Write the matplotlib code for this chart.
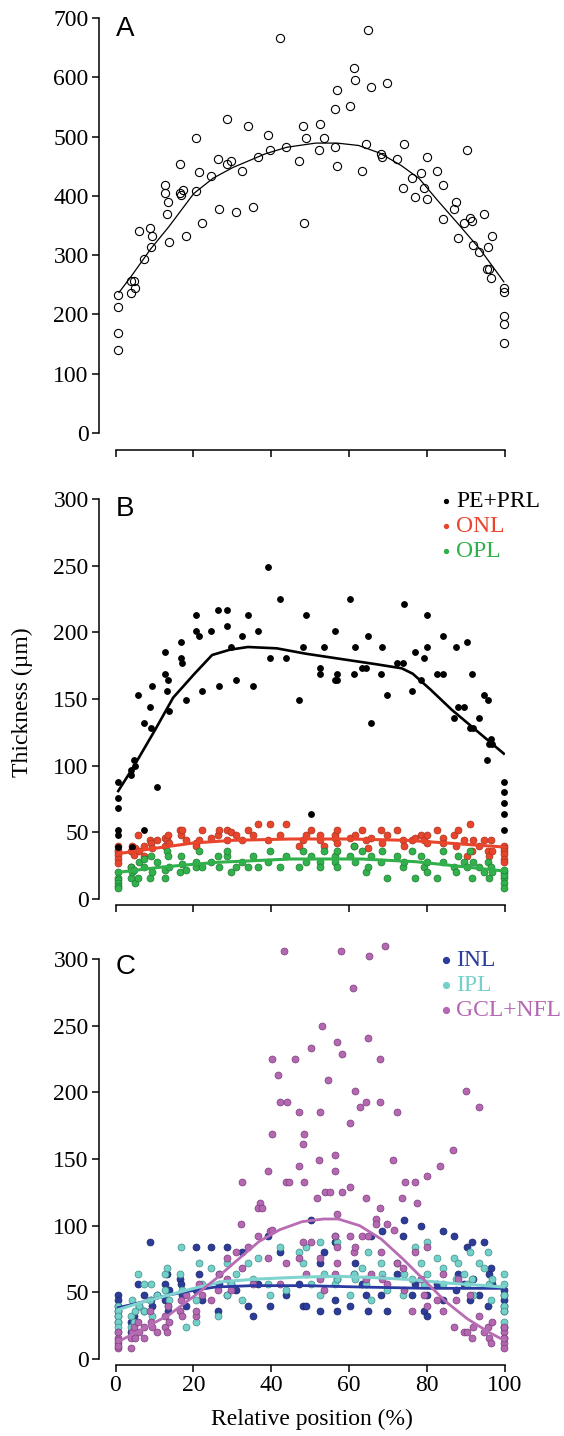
import numpy as np
import matplotlib
matplotlib.use('Agg')
import matplotlib.pyplot as plt

plt.rcParams['font.family'] = ['Liberation Serif', 'DejaVu Serif']

# ---- panel A : total retinal thickness ----
a_x = [0.7, 0.7, 0.7, 0.7, 3.9, 4.8, 4.0, 5.1, 6.1, 7.4, 8.8, 9.4, 9.1, 12.7, 12.7, 13.6, 13.2, 13.7,
       16.6, 16.7, 17.4, 16.5, 18.1, 20.6, 21.4, 20.6, 22.3, 24.5, 26.4, 28.6, 28.5, 29.7, 26.7, 31.0,
       32.6, 33.9, 35.3, 36.5, 39.1, 39.7, 42.2, 43.9, 47.0, 48.2, 48.8, 48.4, 52.4, 52.3, 53.6, 56.3,
       56.8, 56.3, 56.9, 60.2, 61.2, 61.6, 63.3, 64.3, 64.7, 65.5, 69.8, 68.1, 68.5, 72.2, 74.1, 73.8,
       76.2, 76.8, 78.5, 79.1, 80.1, 80.1, 82.6, 84.2, 84.0, 86.9, 87.5, 87.9, 89.4, 90.3, 91.1, 91.5,
       91.9, 93.2, 94.6, 95.6, 96.7, 95.5, 96.0, 96.4, 99.7, 99.7, 99.7, 99.7, 99.7]
a_y = [233, 213, 168, 140, 256, 256, 236, 245, 341, 293, 345, 333, 313, 418, 405, 389, 369, 322,
       454, 402, 410, 405, 333, 498, 441, 409, 354, 434, 462, 530, 454, 458, 377, 373,
       442, 518, 381, 466, 502, 478, 667, 483, 458, 518, 498, 354, 522, 478, 498, 546,
       578, 483, 451, 551, 615, 595, 442, 487, 679, 583, 591, 470, 466, 462, 487, 414,
       430, 398, 438, 414, 466, 394, 442, 418, 361, 377, 390, 329, 354, 478, 362, 358,
       317, 305, 369, 313, 333, 277, 277, 261, 245, 237, 197, 184, 152]
a_fit_x = [0.9, 4.0, 9.1, 13.7, 20.1, 25.1, 30.2, 38.5, 44.0, 51.4, 56.9, 62.4, 67.9, 73.4, 78.0, 82.6, 88.2, 93.7, 99.7]
a_fit_y = [237, 264, 311, 348, 404, 430, 448, 471, 482, 489, 489, 485, 472, 451, 429, 393, 351, 309, 255]

# ---- panel B : outer layers ----
pe_x = [0.7, 0.7, 0.7, 0.7, 0.7, 0.7, 3.9, 4.0, 4.8, 5.1, 5.9, 4.3, 7.4, 7.4, 8.8, 9.1, 9.4, 10.7,
        12.7, 12.7, 13.2, 13.6, 13.7, 16.7, 16.7, 17.1, 18.1, 20.6, 20.6, 21.4, 22.3, 24.5, 26.4, 26.7,
        28.5, 28.5, 29.7, 31.0, 32.6, 33.9, 35.3, 36.5, 39.1, 39.7, 42.2, 43.9, 47.0, 48.2, 48.8, 50.3,
        52.4, 52.4, 53.6, 56.3, 56.3, 56.8, 56.8, 60.2, 61.2, 61.6, 63.3, 64.3, 64.7, 65.5, 68.1, 68.5,
        69.8, 72.2, 73.8, 74.1, 76.2, 76.8, 78.5, 79.1, 80.1, 80.1, 82.6, 84.0, 84.2, 86.9, 87.5, 87.9,
        89.4, 90.3, 91.1, 91.5, 91.9, 93.2, 94.6, 95.5, 95.6, 95.8, 96.4, 96.7, 99.7, 99.7, 99.7, 99.7, 99.7]
pe_y = [88, 76, 68, 52, 48, 39, 93, 97, 104, 100, 153, 39, 132, 52, 144, 128, 160, 84,
        185, 169, 156, 164, 141, 193, 181, 177, 149, 213, 201, 197, 156, 201, 217, 160,
        217, 205, 189, 164, 197, 213, 160, 201, 249, 181, 225, 181, 149, 189, 213, 64,
        169, 173, 189, 201, 164, 169, 164, 225, 169, 189, 173, 173, 197, 132, 169, 189,
        153, 177, 177, 221, 156, 185, 164, 181, 213, 189, 169, 169, 197, 136, 189, 144,
        144, 193, 128, 169, 128, 136, 153, 104, 149, 116, 120, 116, 88, 80, 72, 64, 52]
pe_fit_x = [0.7, 4.6, 10.2, 14.8, 20.3, 24.8, 29.4, 34.0, 41.4, 48.8, 57.9, 67.1, 73.5, 76.3, 80.9, 86.3, 92.8, 99.7]
pe_fit_y = [81, 99, 127, 151, 169, 183, 187, 189, 188, 184, 180, 176, 173, 169, 157, 142, 126, 109]

# sample positions shared by the dense layers
pos = [0.7, 0.7, 0.7, 0.7, 0.7, 0.7, 3.9, 4.0, 4.3, 4.8,
       5.1, 5.9, 6.1, 7.4, 7.4, 8.8, 9.1, 9.4, 10.7, 12.7,
       12.7, 13.2, 13.6, 13.7, 16.5, 16.7, 17.1, 18.1, 20.6, 20.6,
       21.4, 22.3, 24.5, 26.4, 26.7, 28.5, 28.6, 29.7, 31.0, 32.6,
       33.9, 35.3, 36.5, 39.1, 39.7, 42.2, 43.9, 47.0, 48.2, 48.8,
       50.3, 52.4, 52.4, 53.6, 56.3, 56.3, 56.8, 56.9, 60.2, 61.2,
       61.6, 63.3, 64.3, 64.7, 65.5, 68.1, 68.5, 69.8, 72.2, 73.8,
       74.1, 76.2, 76.8, 78.5, 79.1, 80.1, 80.1, 82.6, 84.0, 84.2,
       86.9, 87.5, 87.9, 89.4, 90.3, 91.1, 91.5, 91.9, 93.2, 94.6,
       95.6, 96.0, 96.4, 96.7, 99.7, 99.7, 99.7, 99.7, 99.7, 99.7]
onl = [40, 37, 35, 33, 30, 27, 36, 24, 40, 33,
       38, 48, 36, 32, 40, 44, 42, 38, 44, 46,
       40, 44, 48, 42, 52, 48, 52, 44, 42, 40,
       44, 52, 46, 48, 52, 52, 44, 50, 48, 44,
       52, 48, 56, 44, 56, 48, 56, 40, 44, 48,
       52, 44, 48, 40, 46, 48, 52, 42, 46, 40,
       48, 52, 44, 38, 46, 52, 42, 48, 52, 44,
       40, 44, 46, 48, 44, 48, 42, 52, 46, 42,
       48, 40, 52, 44, 32, 56, 36, 44, 40, 44,
       36, 32, 44, 36, 40, 38, 36, 34, 30, 28]
opl = [20, 16, 14, 12, 10, 8, 24, 16, 20, 22,
       12, 16, 28, 24, 30, 16, 32, 20, 28, 16,
       22, 36, 32, 24, 20, 32, 26, 22, 24, 28,
       36, 24, 28, 32, 24, 32, 36, 20, 24, 28,
       24, 32, 24, 28, 36, 24, 32, 24, 36, 28,
       32, 28, 24, 36, 32, 28, 36, 24, 32, 40,
       28, 36, 20, 24, 32, 28, 36, 16, 32, 24,
       28, 36, 16, 32, 24, 28, 20, 16, 36, 28,
       24, 20, 32, 28, 24, 36, 16, 28, 24, 20,
       28, 16, 24, 20, 20, 16, 12, 8, 18, 22]
onl_fit_x = [0.7, 10, 20, 30, 45, 60, 75, 85, 99.7]
onl_fit_y = [34, 38, 42, 44, 45, 45, 44, 42, 39]
opl_fit_x = [0.7, 12, 26, 45, 63, 77, 90, 99.7]
opl_fit_y = [20, 24, 27.5, 30, 30, 28, 24, 21]

# ---- panel C : inner layers ----
inl = [48, 44, 36, 32, 28, 40, 28, 20, 24, 32,
       28, 56, 40, 48, 36, 88, 44, 40, 48, 56,
       44, 64, 36, 52, 60, 56, 48, 40, 84, 52,
       64, 44, 84, 36, 56, 84, 48, 56, 52, 80,
       40, 32, 56, 92, 40, 80, 48, 56, 40, 40,
       104, 72, 36, 80, 88, 44, 36, 60, 40, 64,
       72, 56, 48, 36, 92, 48, 96, 36, 64, 92,
       104, 48, 56, 100, 36, 48, 32, 56, 96, 44,
       92, 52, 64, 56, 84, 44, 88, 60, 48, 88,
       40, 64, 68, 56, 52, 48, 44, 40, 36, 24]
ipl = [40, 36, 32, 28, 24, 20, 24, 32, 44, 28,
       36, 64, 40, 56, 36, 44, 56, 32, 48, 64,
       52, 68, 40, 44, 64, 84, 52, 24, 44, 28,
       72, 56, 68, 32, 64, 48, 72, 56, 64, 44,
       72, 60, 76, 56, 48, 84, 52, 80, 72, 84,
       56, 88, 48, 64, 92, 56, 60, 88, 48, 64,
       60, 68, 56, 80, 44, 72, 64, 52, 72, 48,
       64, 60, 84, 72, 56, 64, 88, 76, 56, 68,
       76, 60, 72, 64, 56, 80, 60, 48, 72, 68,
       80, 56, 44, 60, 64, 56, 48, 40, 36, 28]
gcl = [8, 12, 16, 20, 14, 10, 8, 16, 20, 24,
       16, 28, 20, 16, 24, 36, 28, 24, 20, 32,
       24, 20, 40, 28, 36, 44, 32, 48, 32, 36,
       56, 48, 44, 52, 64, 76, 60, 52, 80, 68,
       84, 56, 92, 76, 96, 56, 72, 76, 88, 64,
       88, 60, 76, 52, 92, 64, 84, 72, 92, 80,
       84, 92, 60, 92, 64, 80, 60, 56, 72, 68,
       52, 36, 80, 60, 48, 84, 40, 44, 64, 36,
       24, 44, 60, 20, 20, 48, 16, 24, 32, 20,
       24, 16, 12, 28, 20, 12, 16, 8, 24, 16]
gcl_hi_x = [43.3, 57.8, 65.0, 69.3, 61.1, 53.0, 64.7, 56.8, 50.3, 58.2, 40.1, 46.0, 68.0, 41.6, 54.5,
            61.6, 90.1, 42.2, 44.0, 64.3, 67.9, 62.7, 93.4, 47.0, 52.5, 72.2, 60.3, 48.4, 40.1, 48.2,
            86.7, 56.3, 52.3, 71.2, 83.4, 47.0, 39.2, 56.3, 80.1, 32.6, 43.9, 44.5, 48.4, 74.3, 76.8,
            60.3, 53.7, 55.1, 58.2, 51.7, 64.3, 73.5, 37.1, 77.5, 36.7, 37.5, 68.0, 56.8, 66.9, 32.1,
            69.6, 66.9, 40.1, 71.4]
gcl_hi_y = [306, 306, 302, 310, 278, 250, 241, 238, 233, 229, 225, 225, 225, 213, 209,
            201, 201, 193, 193, 193, 193, 189, 189, 185, 185, 185, 177, 169, 169, 161,
            157, 153, 149, 149, 145, 145, 141, 141, 137, 133, 133, 133, 133, 133, 133,
            129, 125, 125, 125, 121, 121, 121, 117, 117, 113, 113, 113, 109, 105, 101,
            101, 101, 97, 97]
inl_fit_x = [0.7, 7.3, 13.7, 20.1, 25.7, 35, 49, 62.7, 80, 99.7]
inl_fit_y = [38.5, 43, 48, 51.5, 54, 55, 55, 54, 53, 53]
ipl_fit_x = [0.7, 7.3, 13.7, 20.1, 27.5, 36.5, 48.4, 57.6, 66.8, 76, 85.2, 99.7]
ipl_fit_y = [37, 43, 48, 53, 58, 60, 61.5, 62, 61, 59.5, 57, 54]
gcl_fit_x = [0.7, 7.3, 13.7, 20.1, 25.7, 31.2, 36.8, 42.2, 47.9, 53.4, 57.2, 62.7, 68.2, 73.8, 79.3, 84.8, 90.4, 95.9, 99.8]
gcl_fit_y = [13, 23, 33, 47, 60, 74, 88, 97, 103, 105, 105, 100, 90, 75, 59, 43, 30, 20, 14]

xt = [0, 20, 40, 60, 80, 100]
W, H = 564., 1436.
fntsz = 17
sans = ['Liberation Sans', 'DejaVu Sans']
L, AW = 115.5, 389.5   # axes left edge and width in pixels

fig = plt.figure(figsize=(W / 100, H / 100), dpi=100)


def style(ax, ymax, ystep, out_b, labels=False):
    ax.set_xlim(0, 100)
    ax.set_ylim(0, ymax)
    for s in ['top', 'right']:
        ax.spines[s].set_visible(False)
    ax.spines['left'].set_position(('outward', 12))
    ax.spines['bottom'].set_position(('outward', out_b))
    ax.spines['left'].set_bounds(0, ymax)
    ax.spines['bottom'].set_bounds(0, 100)
    for s in ['left', 'bottom']:
        ax.spines[s].set_linewidth(1.1)
    ax.set_xticks(xt)
    ax.set_yticks(np.arange(0, ymax + 1, ystep))
    ax.tick_params(width=1.1, length=4.8, labelsize=fntsz, pad=2.5)
    ax.tick_params(axis='x', pad=2.5)
    if not labels:
        ax.set_xticklabels([])


def legend(ax, names, cols, y0, ms):
    for i, (n, c) in enumerate(zip(names, cols)):
        y = y0 - i * 25 / 400.
        ax.plot([(446 - L) / AW], [y + 0.016], 'o', color=c, ms=ms, mec=c, transform=ax.transAxes, clip_on=False)
        ax.text((456 - L) / AW, y, n, color=c, fontsize=fntsz, transform=ax.transAxes, va='baseline')


# A
ax1 = fig.add_axes([L / W, 1 - 433 / H, AW / W, 415 / H])
ax1.plot(a_x, a_y, 'o', mfc='none', mec='k', ms=5.9, mew=0.8, clip_on=False)
ax1.plot(a_fit_x, a_fit_y, '-k', lw=0.9)
style(ax1, 700, 100, 12.2)
ax1.text(0, 1 - 18 / 415., 'A', transform=ax1.transAxes, fontsize=20, family=sans, va='baseline')

# B
ax2 = fig.add_axes([L / W, 1 - 899 / H, AW / W, 400 / H])
ax2.plot(pos, onl, 'o', mfc='#e8452c', mec='#a83420', ms=5, mew=0.5, clip_on=False)
ax2.plot(pos, opl, 'o', mfc='#31b24b', mec='#1f7a33', ms=5, mew=0.5, clip_on=False)
ax2.plot(pe_x, pe_y, 'o', color='k', ms=3.9, clip_on=False)
ax2.plot(onl_fit_x, onl_fit_y, '-', color='#e8452c', lw=2.2)
ax2.plot(opl_fit_x, opl_fit_y, '-', color='#2fb04a', lw=2.2)
ax2.plot(pe_fit_x, pe_fit_y, '-k', lw=1.9)
style(ax2, 300, 50, 4.3)
ax2.text(0, 1 - 17 / 400., 'B', transform=ax2.transAxes, fontsize=20, family=sans, va='baseline')
legend(ax2, ['PE+PRL', 'ONL', 'OPL'], ['k', '#e8452c', '#2fb04a'], 1 - 8 / 400., 2.8)

# C
ax3 = fig.add_axes([L / W, 1 - 1359 / H, AW / W, 400 / H])
ax3.plot(pos, inl, 'o', mfc='#2c3c99', mec='#1b2468', ms=5, mew=0.5, clip_on=False)
ax3.plot(pos, ipl, 'o', mfc='#74d1ca', mec='#3f8f8a', ms=5, mew=0.5, clip_on=False)
ax3.plot(pos, gcl, 'o', mfc='#b468b2', mec='#7a3c7a', ms=5, mew=0.5, clip_on=False)
ax3.plot(gcl_hi_x, gcl_hi_y, 'o', mfc='#b468b2', mec='#7a3c7a', ms=5, mew=0.5, clip_on=False)
ax3.plot(inl_fit_x, inl_fit_y, '-', color='#2a3aa0', lw=2.0)
ax3.plot(ipl_fit_x, ipl_fit_y, '-', color='#80d4cf', lw=2.2)
ax3.plot(gcl_fit_x, gcl_fit_y, '-', color='#b86cb4', lw=2.0)
style(ax3, 300, 50, 4.3, labels=True)
ax3.text(0, 1 - 15 / 400., 'C', transform=ax3.transAxes, fontsize=20, family=sans, va='baseline')
legend(ax3, ['INL', 'IPL', 'GCL+NFL'], ['#2c3c99', '#74d1ca', '#b468b2'], 1 - 7 / 400., 4.2)

fig.text(22 / W, 1 - 702 / H, 'Thickness (\u00b5m)', rotation=90, ha='center', va='center', fontsize=fntsz)
fig.text(312 / W, 1 - 1419 / H, 'Relative position (%)', ha='center', va='center', fontsize=fntsz)

plt.savefig('out.png', dpi=100)
